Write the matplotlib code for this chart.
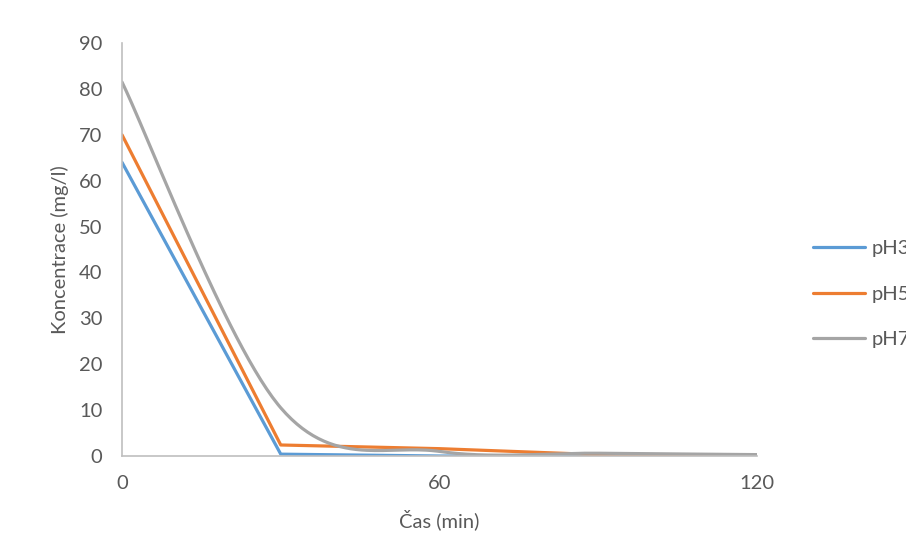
import numpy as np
import matplotlib
matplotlib.use('Agg')
import matplotlib.pyplot as plt

plt.rcParams['font.family'] = ['Lato', 'DejaVu Sans']

cas = [0, 30, 60, 90, 120]
ph3 = [64.0, 0.4, 0.0, 0.0, 0.0]
ph5 = [70.0, 2.4, 1.6, 0.3, 0.0]
ph7 = [81.5, 10.5, 1.0, 0.6, 0.3]

labels = ['pH3', 'pH5', 'pH7']
colors = ['#5B9BD5', '#ED7D31', '#A5A5A5']
smooth = [False, False, True]


def smooth_line(x, y, n=60):
    # Bezier smoothing like the spreadsheet "smoothed line" option
    x = np.asarray(x, float)
    y = np.asarray(y, float)
    px = np.concatenate([[x[0]], x, [x[-1]]])
    py = np.concatenate([[y[0]], y, [y[-1]]])
    t = np.linspace(0, 1, n)[:, None]
    xs, ys = [], []
    for i in range(1, len(x)):
        p0 = np.array([px[i], py[i]])
        p3 = np.array([px[i + 1], py[i + 1]])
        c1 = p0 + (p3 - np.array([px[i - 1], py[i - 1]])) / 6
        c2 = p3 - (np.array([px[i + 2], py[i + 2]]) - p0) / 6
        b = ((1 - t) ** 3) * p0 + 3 * ((1 - t) ** 2) * t * c1 + 3 * (1 - t) * t ** 2 * c2 + t ** 3 * p3
        xs.append(b[:, 0])
        ys.append(b[:, 1])
    return np.concatenate(xs), np.concatenate(ys)


fs = 14.5

fig = plt.figure(figsize=(9.06, 5.48), dpi=100)
ax = fig.add_axes([122 / 906, 1 - 456 / 548, (757 - 122) / 906, (456 - 43) / 548])

for vals, lab, col, sm in zip([ph3, ph5, ph7], labels, colors, smooth):
    if sm:
        xs, ys = smooth_line(cas, vals)
    else:
        xs, ys = cas, vals
    ax.plot(xs, ys, color=col, lw=2.3, label=lab, solid_capstyle='round', solid_joinstyle='round')

ax.set_xlim(0, 120)
ax.set_ylim(0, 90)
ax.set_xticks([0, 60, 120])
ax.set_yticks(range(0, 91, 10))
ax.tick_params(length=0, labelsize=fs, labelcolor='#595959')
ax.tick_params(axis='y', pad=14)
ax.tick_params(axis='x', pad=14)
for s in ['top', 'right']:
    ax.spines[s].set_visible(False)
for s in ['left', 'bottom']:
    ax.spines[s].set_color('#BFBFBF')
    ax.spines[s].set_linewidth(1.2)

ax.set_xlabel('Čas (min)', fontsize=fs, color='#595959', labelpad=12)
ax.set_ylabel('Koncentrace (mg/l)', fontsize=fs, color='#595959', labelpad=7)

# legend sits at the right edge, partly cut off like in the original
fig.legend(loc='center left', bbox_to_anchor=(813 / 906, 1 - 294 / 548), frameon=False,
           borderpad=0, borderaxespad=0, handlelength=2.6, handletextpad=0.3,
           labelspacing=1.4, fontsize=fs, labelcolor='#595959')

fig.savefig('out.png', dpi=100)
